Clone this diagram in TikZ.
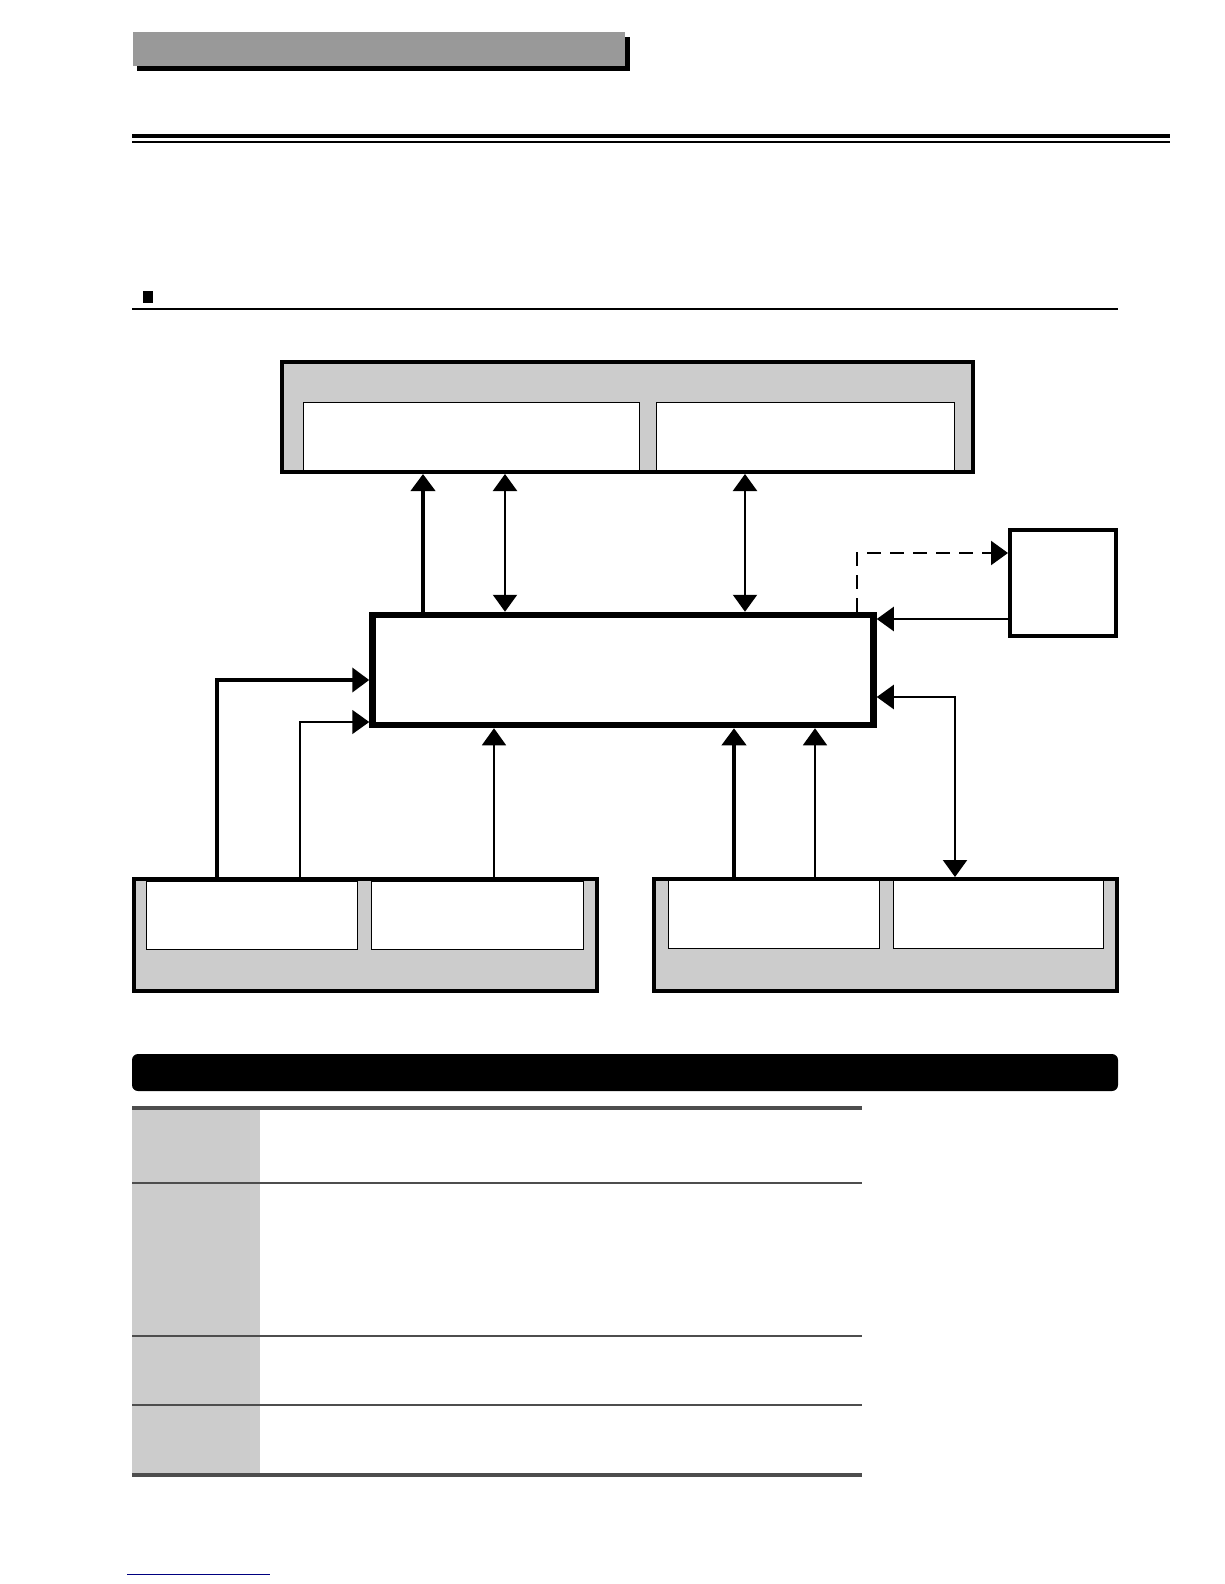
\documentclass[tikz,border=0pt]{standalone}
\usepackage{tikz}
\usetikzlibrary{arrows.meta, positioning, calc}
\definecolor{panelgray}{RGB}{204,204,204}
\definecolor{titlegray}{RGB}{153,153,153}
\definecolor{rulegray}{RGB}{77,77,77}
\definecolor{linkblue}{RGB}{0,0,128}

\begin{document}
\begin{tikzpicture}[x=1pt, y=-1pt,
    box/.style={rectangle, draw, inner sep=0pt},
    panel/.style={box, fill=panelgray, line width=4pt},
    slot/.style={box, fill=white, line width=1pt, minimum height=68pt},
    arr/.style={-{Triangle[length=17pt, width=24pt]}},
    darr/.style={{Triangle[length=17pt, width=24pt]}-{Triangle[length=17pt, width=24pt]}},
    wireH/.style={line width=4pt},
    wireM/.style={line width=2.2pt},
    wireL/.style={line width=1.5pt},
    dashline/.style={dash pattern=on 14pt off 9pt},
]
    \useasboundingbox (0,0) rectangle (1224,1584);

    % Page head
    \fill (137,37) rectangle (630,71);
    \fill[titlegray] (133,32) rectangle (625,66);
    \draw[line width=4pt] (132,136) -- (1170,136);
    \draw[line width=1.2pt] (132,142) -- (1170,142);
    \fill (143,291) rectangle (153,303);
    \draw[line width=1.3pt] (132,309) -- (1118,309);

    % Boxes
    \node[panel, minimum width=691pt, minimum height=110pt] (topbox) at (627.5,417) {};
    \node[slot, minimum width=336pt] (topA) at (471,436) {};
    \node[slot, minimum width=298pt] (topB) at (805,436) {};
    \node[box, fill=white, line width=6.5pt, minimum width=501pt, minimum height=110pt] (core) at (623,670) {};
    \node[box, line width=4pt, minimum width=106pt, minimum height=106pt] (side) at (1063,583) {};
    \node[panel, minimum width=463pt, minimum height=112pt] (botL) at (365.5,935) {};
    \node[slot, minimum width=211pt] (botLa) at (251.5,915) {};
    \node[slot, minimum width=212pt] (botLb) at (477,915) {};
    \node[panel, minimum width=463pt, minimum height=112pt] (botR) at (885.5,935) {};
    \node[slot, minimum width=211pt] (botRa) at (773.5,914) {};
    \node[slot, minimum width=210pt] (botRb) at (998,914) {};

    % Columns and rows of the connectors
    \coordinate (xA) at (423,0);
    \coordinate (xB) at (505,0);
    \coordinate (xC) at (745,0);
    \coordinate (xD) at (857,0);
    \coordinate (xE) at (217,0);
    \coordinate (xF) at (300,0);
    \coordinate (xG) at (494,0);
    \coordinate (xH) at (734,0);
    \coordinate (xI) at (815,0);
    \coordinate (xJ) at (955,0);
    \coordinate (yD) at (0,553);
    \coordinate (yS) at (0,619);
    \coordinate (yE) at (0,680);
    \coordinate (yR) at (0,697);
    \coordinate (yF) at (0,722);

    % Connectors
    \draw[wireH, arr] (xA |- core.north) -- (xA |- topbox.south);
    \draw[wireM, darr] (xB |- core.north) -- (xB |- topbox.south);
    \draw[wireM, darr] (xC |- core.north) -- (xC |- topbox.south);
    \draw[wireM, dashline, arr] (xD |- core.north) |- (side.west |- yD);
    \draw[wireM, arr] (side.west |- yS) -- (core.east |- yS);
    \draw[wireH, arr] (xE |- botL.north) |- (core.west |- yE);
    \draw[wireL, arr] (xF |- botL.north) |- (core.west |- yF);
    \draw[wireL, arr] (xG |- botL.north) -- (xG |- core.south);
    \draw[wireH, arr] (xH |- botR.north) -- (xH |- core.south);
    \draw[wireL, arr] (xI |- botR.north) -- (xI |- core.south);
    \draw[wireM, darr] (core.east |- yR) -| (xJ |- botR.north);

    % Table
    \fill[rounded corners=6pt] (132,1054) rectangle (1118,1091);
    \fill[panelgray] (132,1108) rectangle (260,1475);
    \foreach \y/\w in {1108/4, 1183/2.2, 1336/2.2, 1405/2.2, 1475/4} {
        \draw[rulegray, line width=\w pt] (132,\y) -- (862,\y);
    }
    \draw[linkblue, line width=1pt] (127,1574) -- (270,1574);
\end{tikzpicture}
\end{document}
